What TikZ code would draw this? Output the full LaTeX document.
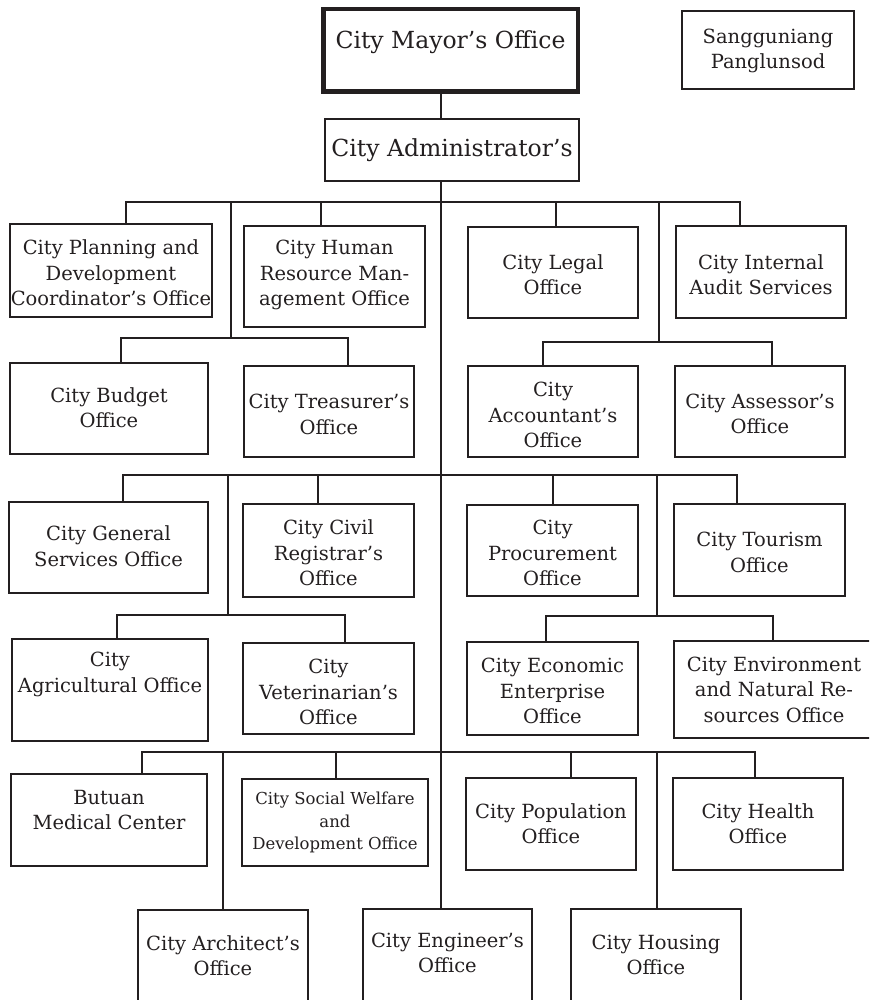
\documentclass[tikz,border=0pt]{standalone}
\usepackage{fontspec}
\setmainfont{DejaVu Serif}
\definecolor{ink}{RGB}{35,31,32}
\tikzset{
  ln/.style={draw=ink, line width=2pt},
  box/.style={draw=ink, line width=2pt, rectangle, inner sep=0pt},
  txt/.style={align=center, inner sep=0pt, text=ink, font=\fontsize{19.5}{25.5}\selectfont},
  bigtxt/.style={txt, font=\fontsize{23.5}{28}\selectfont},
  smalltxt/.style={txt, font=\fontsize{16.5}{22.5}\selectfont}
}
\newcommand\obox[8][txt]{%
  \pgfmathsetmacro\obW{#5-#3-2}%
  \pgfmathsetmacro\obH{#6-#4-2}%
  \node[box, minimum width=\obW pt, minimum height=\obH pt] (#2) at ({(#3+#5)/2},{(#4+#6)/2}) {};%
  \node[#1] (#2t) at ({(#3+#5)/2},#7) {#8};%
}
\begin{document}
\begin{tikzpicture}[x=1pt,y=-1pt]
\useasboundingbox (0,0) rectangle (869,1000);
\clip (0,0) rectangle (869,1000);
% top
\node[box, line width=4.5pt, minimum width=254.5pt, minimum height=82.5pt] (mayor) at (450.5,50.5) {};
\node[bigtxt] (mayort) at (450.5,42) {City Mayor's Office};
\obox{sang}{681}{10}{855}{90}{51}{Sangguniang\\Panglunsod}
\obox[bigtxt]{admin}{324}{118}{580}{182}{150}{City Administrator's}
% level 1
\obox{plan}{9}{223}{213}{318}{273}{City Planning and\\Development\\Coordinator's Office}
\obox{hr}{243}{225}{426}{328}{275}{City Human\\Resource Man-\\agement Office}
\obox{legal}{467}{226}{639}{319}{274.5}{City Legal\\Office}
\obox{audit}{675}{225}{847}{319}{274.5}{City Internal\\Audit Services}
% level 2
\obox{budget}{9}{362}{209}{455}{407.5}{City Budget\\Office}
\obox{treas}{243}{365}{415}{458}{414.5}{City Treasurer's\\Office}
\obox{acct}{467}{365}{639}{458}{415}{City\\Accountant's\\Office}
\obox{assess}{674}{365}{846}{458}{414}{City Assessor's\\Office}
% level 3
\obox{gen}{8}{501}{209}{594}{546}{City General\\Services Office}
\obox{civil}{242}{503}{415}{598}{553}{City Civil\\Registrar's\\Office}
\obox{proc}{466}{504}{639}{597}{553}{City\\Procurement\\Office}
\obox{tour}{673}{503}{846}{597}{552.5}{City Tourism\\Office}
% level 4
\obox{agri}{11}{638}{209}{742}{674.5}{City\\Agricultural Office}
\obox{vet}{242}{642}{415}{735}{692}{City\\Veterinarian's\\Office}
\obox{econ}{466}{641}{639}{736}{691}{City Economic\\Enterprise\\Office}
\obox{env}{673}{640}{875}{739}{689.5}{City Environment\\and Natural Re-\\sources Office}
% level 5
\obox{butuan}{10}{773}{208}{867}{810}{Butuan\\Medical Center}
\obox[smalltxt]{social}{241}{778}{429}{867}{822.5}{City Social Welfare\\and\\Development Office}
\obox{pop}{465}{777}{637}{871}{823.5}{City Population\\Office}
\obox{health}{672}{777}{844}{871}{823.5}{City Health\\Office}
% level 6
\obox{arch}{137}{909}{309}{1004}{955.5}{City Architect's\\Office}
\obox{eng}{362}{908}{533}{1004}{953}{City Engineer's\\Office}
\obox{house}{570}{908}{742}{1004}{955}{City Housing\\Office}
% trunk
\coordinate (tr) at (441,0);
\draw[ln] (mayor.south -| tr) -- (admin.north -| tr);
\draw[ln] (admin.south -| tr) -- (eng.north -| tr);
% bus 1
\coordinate (b1a) at (126,202); \coordinate (b1b) at (740,202);
\coordinate (b1hr) at (321,202); \coordinate (b1lg) at (556,202);
\draw[ln] (plan.north -| b1a) -- (b1a) -- (b1b) -- (audit.north -| b1b);
\draw[ln] (b1hr) -- (hr.north -| b1hr);
\draw[ln] (b1lg) -- (legal.north -| b1lg);
% bus 2 left
\coordinate (v1a) at (231,202); \coordinate (b2a) at (231,338);
\coordinate (b2al) at (121,338); \coordinate (b2ar) at (348,338);
\draw[ln] (v1a) -- (b2a);
\draw[ln] (budget.north -| b2al) -- (b2al) -- (b2ar) -- (treas.north -| b2ar);
% bus 2 right
\coordinate (v1b) at (659,202); \coordinate (b2b) at (659,342);
\coordinate (b2bl) at (543,342); \coordinate (b2br) at (772,342);
\draw[ln] (v1b) -- (b2b);
\draw[ln] (acct.north -| b2bl) -- (b2bl) -- (b2br) -- (assess.north -| b2br);
% bus 3
\coordinate (b3a) at (123,475); \coordinate (b3b) at (737,475);
\coordinate (b3cv) at (318,475); \coordinate (b3pr) at (553,475);
\draw[ln] (gen.north -| b3a) -- (b3a) -- (b3b) -- (tour.north -| b3b);
\draw[ln] (b3cv) -- (civil.north -| b3cv);
\draw[ln] (b3pr) -- (proc.north -| b3pr);
% bus 4 left
\coordinate (v3a) at (228,475); \coordinate (b4a) at (228,615);
\coordinate (b4al) at (117,615); \coordinate (b4ar) at (345,615);
\draw[ln] (v3a) -- (b4a);
\draw[ln] (agri.north -| b4al) -- (b4al) -- (b4ar) -- (vet.north -| b4ar);
% bus 4 right
\coordinate (v3b) at (657,475); \coordinate (b4b) at (657,616);
\coordinate (b4bl) at (546,616); \coordinate (b4br) at (773,616);
\draw[ln] (v3b) -- (b4b);
\draw[ln] (econ.north -| b4bl) -- (b4bl) -- (b4br) -- (env.north -| b4br);
% bus 5
\coordinate (b5a) at (142,752); \coordinate (b5b) at (755,752);
\coordinate (b5so) at (336,752); \coordinate (b5po) at (571,752);
\draw[ln] (butuan.north -| b5a) -- (b5a) -- (b5b) -- (health.north -| b5b);
\draw[ln] (b5so) -- (social.north -| b5so);
\draw[ln] (b5po) -- (pop.north -| b5po);
% to bottom row
\coordinate (v5a) at (223,752); \coordinate (v5b) at (657,752);
\draw[ln] (v5a) -- (arch.north -| v5a);
\draw[ln] (v5b) -- (house.north -| v5b);
\end{tikzpicture}
\end{document}
